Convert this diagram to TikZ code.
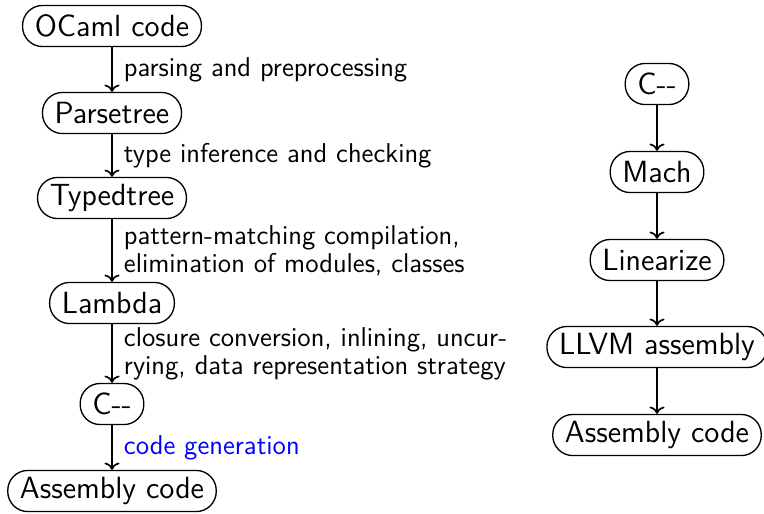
\documentclass[tikz,border=0pt]{standalone}
\usetikzlibrary{arrows.meta}
\begin{document}
\begin{tikzpicture}[x=0.45pt,y=-0.45pt,
  stage/.style={draw,rectangle,rounded corners=9pt,
    line width=0.6pt,inner xsep=5.5pt,inner ysep=0pt,minimum height=18.5pt,
    font=\sffamily\fontsize{13.8}{16}\selectfont},
  lab/.style={anchor=west,align=left,inner sep=0pt,
    font=\sffamily\fontsize{12.25}{12.6}\selectfont},
  flow/.style={->,line width=0.75pt}]
\useasboundingbox (0,0) rectangle (764,513);
% left column
\node[stage] (oc) at (112,26) {OCaml code};
\node[stage] (pt) at (112,113) {Parsetree};
\node[stage] (tt) at (112,198) {Typedtree};
\node[stage] (la) at (112,303) {Lambda};
\node[stage] (cm) at (112,404) {C-{}-};
\node[stage] (ac) at (112,491) {Assembly code};
\draw[flow] (oc) -- (pt) node[lab,midway,xshift=5pt] {parsing and preprocessing};
\draw[flow] (pt) -- (tt) node[lab,midway,xshift=5pt] {type inference and checking};
\draw[flow] (tt) -- (la) node[lab,midway,xshift=5pt] {pattern-matching compilation,\\elimination of modules, classes};
\draw[flow] (la) -- (cm) node[lab,midway,xshift=5pt] {closure conversion, inlining, uncur-\\rying, data representation strategy};
\draw[flow] (cm) -- (ac) node[lab,midway,xshift=5pt,text=blue] {code generation};
% right column
\node[stage] (rc) at (657,84) {C-{}-};
\node[stage] (ma) at (657,172) {Mach};
\node[stage] (li) at (657,260) {Linearize};
\node[stage] (ll) at (657,347) {LLVM assembly};
\node[stage] (ra) at (657,435) {Assembly code};
\draw[flow] (rc) -- (ma);
\draw[flow] (ma) -- (li);
\draw[flow] (li) -- (ll);
\draw[flow] (ll) -- (ra);
\end{tikzpicture}
\end{document}
